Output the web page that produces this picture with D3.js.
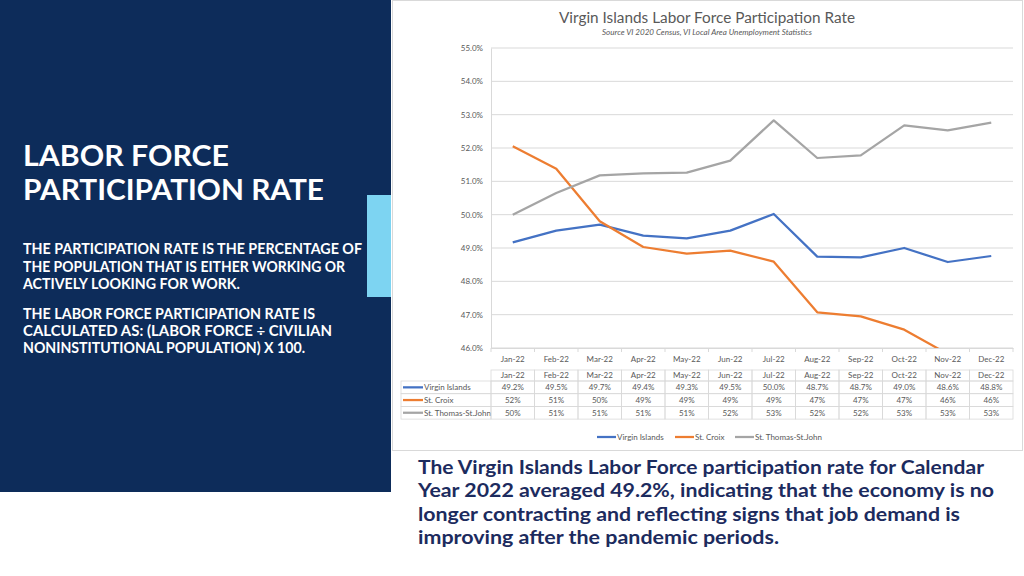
<!DOCTYPE html>
<html><head><meta charset="utf-8">
<script src="https://cdn.jsdelivr.net/npm/d3@7"></script>
<style>html,body{margin:0;padding:0;background:#fff;}svg{display:block;}</style>
</head><body>
<svg id="c" width="1024" height="576"></svg>
<script>
const months = ["Jan-22","Feb-22","Mar-22","Apr-22","May-22","Jun-22","Jul-22","Aug-22","Sep-22","Oct-22","Nov-22","Dec-22"];
const seriesNames = ["Virgin Islands","St. Croix","St. Thomas-St.John"];
const virginIslands = [49.17,49.52,49.70,49.37,49.29,49.52,50.02,48.74,48.72,49.00,48.58,48.76];
const stCroix = [52.05,51.38,49.80,49.03,48.83,48.92,48.59,47.07,46.95,46.55,45.82,45.70];
const stThomas = [50.00,50.65,51.18,51.24,51.26,51.62,52.83,51.70,51.78,52.68,52.53,52.76];
const yTicks = [46,47,48,49,50,51,52,53,54,55];
const seriesColors = ["#4472c4","#ed7d31","#a5a5a5"];
const seriesDecimals = [1,0,0];

const series = [virginIslands, stCroix, stThomas];
const svg = d3.select("#c");
const font = "Lato, 'Liberation Sans', sans-serif";
const gray = "#595959";

// left panel
svg.append("rect").attr("x",0).attr("y",0).attr("width",391).attr("height",492).attr("fill","#0d2c5a");
svg.append("rect").attr("x",367).attr("y",195).attr("width",24).attr("height",102).attr("fill","#7dd4f2");

const headFont = "Lato, 'Noto Sans', sans-serif";
const heading = [["LABOR FORCE",166,206],["PARTICIPATION RATE",200,301]];
heading.forEach(d=>{
  svg.append("text").attr("x",23).attr("y",d[1]).attr("fill","#fff")
    .attr("font-family",headFont).attr("font-weight","bold").attr("font-size",28)
    .attr("textLength",d[2]).attr("lengthAdjust","spacingAndGlyphs").text(d[0]);
});
const body = [
  ["THE PARTICIPATION RATE IS THE PERCENTAGE OF",254,339],
  ["THE POPULATION THAT IS EITHER WORKING OR",271.5,322],
  ["ACTIVELY LOOKING FOR WORK.",288.8,217],
  ["THE LABOR FORCE PARTICIPATION RATE IS",318.5,292],
  ["CALCULATED AS: (LABOR FORCE \u00F7 CIVILIAN",335.8,309],
  ["NONINSTITUTIONAL POPULATION) X 100.",353.1,282]
];
body.forEach(d=>{
  svg.append("text").attr("x",23).attr("y",d[1]).attr("fill","#fff")
    .attr("font-family",headFont).attr("font-weight","bold").attr("font-size",14.3)
    .attr("textLength",d[2]).attr("lengthAdjust","spacingAndGlyphs").text(d[0]);
});

// bottom text
const bottom = [
  ["The Virgin Islands Labor Force participation rate for Calendar",473.5,566],
  ["Year 2022 averaged 49.2%, indicating that the economy is no",497,576],
  ["longer contracting and reflecting signs that job demand is",520.5,542],
  ["improving after the pandemic periods.",544,361]
];
bottom.forEach(d=>{
  svg.append("text").attr("x",418).attr("y",d[1]).attr("fill","#1c2b5e")
    .attr("font-family",headFont).attr("font-weight","bold").attr("font-size",18)
    .attr("textLength",d[2]).attr("lengthAdjust","spacingAndGlyphs").text(d[0]);
});

// chart frame
svg.append("rect").attr("x",392.5).attr("y",0.5).attr("width",630).attr("height",450)
  .attr("fill","#fff").attr("stroke","#d9d9d9");

svg.append("text").attr("x",707).attr("y",23).attr("text-anchor","middle").attr("fill",gray)
  .attr("font-family",font).attr("font-size",15.5).attr("textLength",296).attr("lengthAdjust","spacingAndGlyphs")
  .text("Virgin Islands Labor Force Participation Rate");
svg.append("text").attr("x",707).attr("y",35).attr("text-anchor","middle").attr("fill",gray)
  .attr("font-family",font).attr("font-size",7.5).attr("font-style","italic").attr("textLength",210).attr("lengthAdjust","spacingAndGlyphs")
  .text("Source VI 2020 Census, VI Local Area Unemployment Statistics");

const x = d3.scaleBand().domain(months).range([491,1013]);
const y = d3.scaleLinear().domain([46,55]).range([348,48]);

// gridlines
svg.append("g").selectAll("line").data(yTicks).join("line")
  .attr("x1",491).attr("x2",1013).attr("y1",d=>y(d)).attr("y2",d=>y(d))
  .attr("stroke","#d9d9d9").attr("stroke-width",1);

const yAxis = svg.append("g").attr("transform","translate(491,0)")
  .call(d3.axisLeft(y).tickValues(yTicks).tickSize(0).tickPadding(8).tickFormat(d=>d3.format(".1f")(d)+"%"));
yAxis.select(".domain").attr("stroke","#d9d9d9");
yAxis.selectAll("text").attr("fill",gray).attr("font-family",font).attr("font-size",8);

const xAxis = svg.append("g").attr("transform","translate(0,348)")
  .call(d3.axisBottom(x).tickSize(0).tickPadding(8));
xAxis.select(".domain").attr("stroke","#d9d9d9");
xAxis.selectAll("text").attr("fill",gray).attr("font-family",font).attr("font-size",8);
svg.append("g").selectAll("line").data(d3.range(months.length+1)).join("line")
  .attr("x1",i=>491+i*x.step()).attr("x2",i=>491+i*x.step()).attr("y1",348).attr("y2",352)
  .attr("stroke","#d9d9d9");

svg.append("clipPath").attr("id","clip").append("rect").attr("x",491).attr("y",48).attr("width",522).attr("height",300);

const line = d3.line().x((d,i)=>x(months[i])+x.bandwidth()/2).y(d=>y(d));
svg.append("g").attr("clip-path","url(#clip)").selectAll("path").data(series).join("path")
  .attr("d",line).attr("fill","none").attr("stroke",(d,i)=>seriesColors[i])
  .attr("stroke-width",2.25).attr("stroke-linejoin","round");

// data table
const tTop = 370, hH = 11, rH = 12.7, tLeft = 401;
const tb = svg.append("g");
const bc = "#d9d9d9";
months.forEach((m,i)=>{
  tb.append("rect").attr("x",x(m)).attr("y",tTop).attr("width",x.step()).attr("height",hH)
    .attr("fill","none").attr("stroke",bc).attr("stroke-width",0.8);
  tb.append("text").attr("x",x(m)+x.step()/2).attr("y",tTop+8.3).attr("text-anchor","middle")
    .attr("fill",gray).attr("font-family",font).attr("font-size",8).text(m);
});
series.forEach((s,j)=>{
  const ry = tTop+hH+j*rH;
  tb.append("rect").attr("x",tLeft).attr("y",ry).attr("width",491-tLeft).attr("height",rH)
    .attr("fill","none").attr("stroke",bc).attr("stroke-width",0.8);
  tb.append("line").attr("x1",403).attr("x2",423).attr("y1",ry+rH/2).attr("y2",ry+rH/2)
    .attr("stroke",seriesColors[j]).attr("stroke-width",2.25);
  tb.append("text").attr("x",424).attr("y",ry+rH/2+3).attr("fill",gray)
    .attr("font-family",font).attr("font-size",8).text(seriesNames[j]);
  s.forEach((v,i)=>{
    tb.append("rect").attr("x",x(months[i])).attr("y",ry).attr("width",x.step()).attr("height",rH)
      .attr("fill","none").attr("stroke",bc).attr("stroke-width",0.8);
    tb.append("text").attr("x",x(months[i])+x.step()/2).attr("y",ry+rH/2+3).attr("text-anchor","middle")
      .attr("fill",gray).attr("font-family",font).attr("font-size",8)
      .text(d3.format("."+seriesDecimals[j]+"f")(v)+"%");
  });
});

// legend
const legX = [597,675,735];
seriesNames.forEach((n,j)=>{
  svg.append("line").attr("x1",legX[j]).attr("x2",legX[j]+19).attr("y1",437).attr("y2",437)
    .attr("stroke",seriesColors[j]).attr("stroke-width",2.25);
  svg.append("text").attr("x",legX[j]+20).attr("y",440).attr("fill",gray)
    .attr("font-family",font).attr("font-size",8).text(n);
});
</script>
</body></html>
